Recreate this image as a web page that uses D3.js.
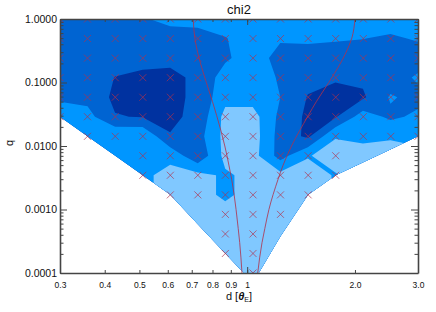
<!DOCTYPE html>
<html>
<head>
<meta charset="utf-8">
<script src="https://cdn.jsdelivr.net/npm/d3@7"></script>
<style>
  body { margin: 0; background: #fff; }
  svg { display: block; font-family: "Liberation Sans", Arial, sans-serif; }
</style>
</head>
<body>
<svg id="chart" width="436" height="312"></svg>
<script>
// grid of models: separation d [theta_E] and mass ratio q (log spaced)
const dGrid = [0.300, 0.358, 0.428, 0.511, 0.610, 0.728, 0.869, 1.038, 1.239, 1.480, 1.767, 2.110, 2.519, 3.000];
const qGrid = [1, 0.492, 0.242, 0.119, 0.0586, 0.0289, 0.0142, 0.00702, 0.00346, 0.00170, 0.000838, 0.000412, 0.000203, 0.0001];

// chi2 band value at each node, rows = q (top row q = 1), cols = d; null = no model
const chi2 = [
  [1.5, 1.5, 1.5, 1.9, 2.3, 2.4, 2.5, 2.5, 2.5, 2.5, 2.5, 2.5, 2.5, 2.5],
  [1.5, 1.5, 1.5, 1.5, 1.5, 1.5, 1.95, 2.5, 2.1, 2.2, 2.1, 2.02, 1.85, 2.1],
  [1.5, 1.5, 1.3, 1.3, 1.25, 1.5, 1.85, 2.5, 1.65, 1.5, 1.5, 1.5, 1.5, 1.5],
  [1.6, 1.5, 0.98, 0.8, 0.75, 1.2, 2.45, 2.5, 1.9, 1.3, 1.1, 1.2, 1.5, 2.15],
  [1.85, 1.7, 0.8, 0.7, 0.75, 1.2, 2.7, 2.6, 2.0, 0.95, 0.7, 0.85, 2.1, 1.7],
  [2.5, 2.35, 1.05, 0.95, 0.8, 1.25, 3.3, 3.4, 1.75, 0.8, 0.9, 2.5, 1.8, 2.2],
  [null, 2.5, 2.9, 2.95, 1.05, 1.6, 3.3, 3.5, 1.6, 0.8, 2.95, 2.85, 2.95, 2.9],
  [null, null, 2.9, 2.6, 2.75, 1.2, 3.3, 3.4, 1.6, 2.95, 3.3, 3.25, 3.2, 3.1],
  [null, null, null, 2.8, 3.3, 3.3, 2.85, 3.3, 3.3, 3.3, 2.95, null, null, null],
  [null, null, null, null, 3.3, 3.3, 2.85, 3.3, 3.3, 3.3, null, null, null, null],
  [null, null, null, null, null, 3.3, 3.3, 3.3, 3.3, null, null, null, null, null],
  [null, null, null, null, null, null, 3.3, 3.3, 3.3, null, null, null, null, null],
  [null, null, null, null, null, null, 3.3, 3.3, null, null, null, null, null, null],
  [null, null, null, null, null, null, null, 3.3, null, null, null, null, null, null]
];

// how many q rows (from the top) were computed in each d column -> crosses
const crossRows = [6, 7, 7, 9, 10, 10, 13, 14, 11, 10, 9, 7, 7, 7];
// lowest q covered by the contour map in each d column
const qLimit = [0.0289, 0.0142, 0.00702, 0.00346, 0.00170, 0.000588, 0.000203, 0.00007, 0.00038, 0.00170, 0.00346, 0.00555, 0.00887, 0.0142];

const levels = [1, 2, 3];
const bandColors = ['#0032a0', '#0064d2', '#0096ff', '#80c8ff'];

// topology boundaries
const boundaryQ = [1, 0.5, 0.3, 0.1, 0.05, 0.03, 0.01, 0.005, 0.003, 0.001, 0.0005, 0.0003, 0.0001];
const closeD = [0.707, 0.714, 0.727, 0.769, 0.800, 0.822, 0.866, 0.889, 0.905, 0.931, 0.944, 0.953, 0.967];
const wideD = [2.00, 1.96, 1.89, 1.69, 1.56, 1.48, 1.33, 1.26, 1.22, 1.15, 1.12, 1.10, 1.07];

const xTicks = [0.3, 0.4, 0.5, 0.6, 0.7, 0.8, 0.9, 1, 2, 3];
const xTickLabels = ['0.3', '0.4', '0.5', '0.6', '0.7', '0.8', '0.9', '1', '2.0', '3.0'];
const xMajor = [1];
const yMajor = [1, 0.1, 0.01, 0.001, 0.0001];
const yTickLabels = ['1.0000', '0.1000', '0.0100', '0.0010', '0.0001'];


const width = 436, height = 312;
const margin = { top: 19, right: 18, bottom: 39, left: 60 };
const axisColor = '#444';
const markColor = '#b0304a';

const svg = d3.select('#chart');

const x = d3.scaleLog().domain([0.3, 3]).range([margin.left, width - margin.right]);
const y = d3.scaleLog().domain([1e-4, 1]).range([height - margin.bottom, margin.top]);

const nx = dGrid.length, ny = qGrid.length;
// node index -> pixel (grid is uniform in log space)
const gx = d3.scaleLinear().domain([0, nx - 1]).range([x(dGrid[0]), x(dGrid[nx - 1])]);
const gy = d3.scaleLinear().domain([0, ny - 1]).range([y(qGrid[0]), y(qGrid[ny - 1])]);

const defs = svg.append('defs');
defs.append('clipPath').attr('id', 'plot-clip')
  .append('rect')
  .attr('x', x.range()[0]).attr('y', y.range()[1])
  .attr('width', x.range()[1] - x.range()[0])
  .attr('height', y.range()[0] - y.range()[1]);

// area actually covered by models
const cover = [[x(dGrid[0]) - 20, margin.top - 20], [x(dGrid[nx - 1]) + 20, margin.top - 20],
  [x(dGrid[nx - 1]) + 20, y(qLimit[nx - 1])]]
  .concat(dGrid.map((d, i) => [x(d), y(qLimit[i])]).reverse())
  .concat([[x(dGrid[0]) - 20, y(qLimit[0])]]);
defs.append('clipPath').attr('id', 'cover-clip')
  .append('path').attr('d', d3.line()(cover) + 'Z');

// contour input, empty nodes take the value above them
const values = [];
for (let r = 0; r < ny; r++) {
  for (let c = 0; c < nx; c++) {
    let rr = r;
    while (chi2[rr][c] == null) rr--;
    values.push(chi2[rr][c]);
  }
}
const bands = d3.contours().size([nx, ny]).thresholds(levels)(values);
const toPixels = d3.geoTransform({
  point(px, py) { this.stream.point(gx(px - 0.5), gy(py - 0.5)); }
});
const bandPath = d3.geoPath(toPixels);

const map = svg.append('g').attr('clip-path', 'url(#plot-clip)')
  .append('g').attr('clip-path', 'url(#cover-clip)');

map.append('rect')
  .attr('x', 0).attr('y', 0).attr('width', width).attr('height', height)
  .attr('fill', bandColors[0]);

map.selectAll('path.band')
  .data(bands)
  .join('path')
  .attr('class', 'band')
  .attr('d', bandPath)
  .attr('fill', (d, i) => bandColors[i + 1]);

const marks = svg.append('g').attr('clip-path', 'url(#plot-clip)');

// model grid crosses
const nodes = [];
dGrid.forEach((d, c) => {
  for (let r = 0; r < crossRows[c]; r++) nodes.push([d, qGrid[r]]);
});
const s = 3.5;
marks.selectAll('path.cross')
  .data(nodes)
  .join('path')
  .attr('class', 'cross')
  .attr('d', p => {
    const cx = x(p[0]), cy = y(p[1]);
    return `M${cx - s},${cy - s}L${cx + s},${cy + s}M${cx - s},${cy + s}L${cx + s},${cy - s}`;
  })
  .attr('stroke', markColor)
  .attr('stroke-width', 0.85)
  .attr('stroke-opacity', 0.8)
  .attr('fill', 'none');

// close / wide boundaries
const boundaryLine = d3.line()
  .x(p => x(p[0]))
  .y(p => y(p[1]))
  .curve(d3.curveMonotoneY);

[closeD, wideD].forEach(ds => {
  marks.append('path')
    .datum(boundaryQ.map((q, i) => [ds[i], q]))
    .attr('d', boundaryLine)
    .attr('fill', 'none')
    .attr('stroke', markColor)
    .attr('stroke-opacity', 0.9)
    .attr('stroke-width', 0.9);
});


// axes, ticks drawn inward on all four sides
const x0 = x.range()[0], x1 = x.range()[1];
const yTop = y.range()[1], yBot = y.range()[0];
const yMinor = y.ticks().filter(v => !yMajor.some(m => Math.abs(m - v) / m < 1e-6));

function styleAxis(g, keepDomain) {
  if (keepDomain) {
    g.select('.domain').attr('stroke', axisColor).attr('stroke-width', 1.6);
  } else {
    g.select('.domain').remove();
  }
  g.selectAll('.tick line').attr('stroke', axisColor).attr('stroke-width', 1);
  g.attr('font-family', null);
}

const xBottom = svg.append('g').attr('transform', `translate(0,${yBot})`);
xBottom.call(d3.axisBottom(x).tickValues(xTicks).tickSize(-3).tickSizeOuter(0)
  .tickPadding(9).tickFormat((d, i) => xTickLabels[i]))
  .call(g => styleAxis(g, true));
xBottom.selectAll('.tick text').attr('font-size', 8.5).attr('fill', '#111');
xBottom.append('g').call(d3.axisBottom(x).tickValues(xMajor).tickSize(-6).tickSizeOuter(0).tickFormat(''))
  .call(g => styleAxis(g, false));

const xTop = svg.append('g').attr('transform', `translate(0,${yTop})`);
xTop.call(d3.axisTop(x).tickValues(xTicks).tickSize(-3).tickSizeOuter(0).tickFormat(''))
  .call(g => styleAxis(g, true));
xTop.append('g').call(d3.axisTop(x).tickValues(xMajor).tickSize(-6).tickSizeOuter(0).tickFormat(''))
  .call(g => styleAxis(g, false));

const yLeft = svg.append('g').attr('transform', `translate(${x0},0)`);
yLeft.call(d3.axisLeft(y).tickValues(yMajor).tickSize(-7).tickSizeOuter(0)
  .tickPadding(3).tickFormat((d, i) => yTickLabels[i]))
  .call(g => styleAxis(g, true));
yLeft.selectAll('.tick text').attr('font-size', 10.5).attr('fill', '#111');
yLeft.append('g').call(d3.axisLeft(y).tickValues(yMinor).tickSize(-3.5).tickSizeOuter(0).tickFormat(''))
  .call(g => styleAxis(g, false));

const yRight = svg.append('g').attr('transform', `translate(${x1},0)`);
yRight.call(d3.axisRight(y).tickValues(yMajor).tickSize(-7).tickSizeOuter(0).tickFormat(''))
  .call(g => styleAxis(g, true));
yRight.append('g').call(d3.axisRight(y).tickValues(yMinor).tickSize(-3.5).tickSizeOuter(0).tickFormat(''))
  .call(g => styleAxis(g, false));

// titles
svg.append('text')
  .attr('x', (x0 + x1) / 2).attr('y', 14)
  .attr('text-anchor', 'middle')
  .attr('font-size', 13)
  .attr('fill', '#111')
  .text('chi2');

const xTitle = svg.append('text')
  .attr('x', (x0 + x1) / 2).attr('y', 300)
  .attr('text-anchor', 'middle')
  .attr('font-size', 11)
  .attr('fill', '#111');
xTitle.append('tspan').text('d  [');
xTitle.append('tspan').attr('font-style', 'italic').attr('font-weight', 'bold').text('θ');
xTitle.append('tspan').attr('font-size', 7).attr('dy', 2).text('E');
xTitle.append('tspan').attr('dy', -2).text(']');

svg.append('text')
  .attr('transform', `translate(13,${(yTop + yBot) / 2 - 3}) rotate(-90)`)
  .attr('text-anchor', 'middle')
  .attr('font-size', 11)
  .attr('fill', '#111')
  .text('q');
</script>
</body>
</html>
